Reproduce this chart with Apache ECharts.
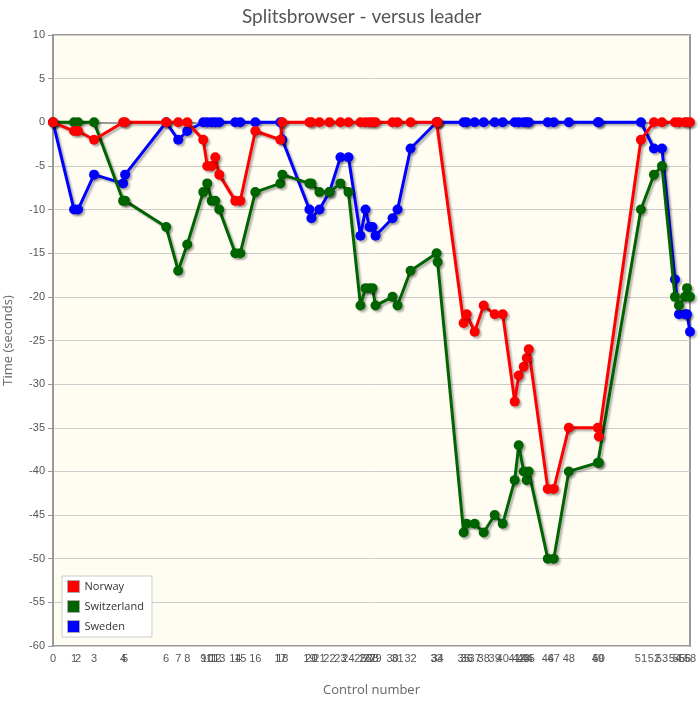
<!DOCTYPE html>
<html>
<head>
<meta charset="utf-8">
<script src="https://cdn.jsdelivr.net/npm/echarts@6/dist/echarts.min.js"></script>
<style>
html,body{margin:0;padding:0;background:#fff;}
#chart{width:700px;height:709px;}
</style>
</head>
<body>
<div id="chart"></div>
<script>
// Leader's cumulative time (seconds) at each control 0..58
var controlTimes = [0,105,125,205,350,360,565,625,670,750,770,792,810,830,910,935,1010,1135,1145,1280,1290,1330,1380,1435,1475,1535,1560,1580,1595,1610,1695,1720,1785,1915,1920,2050,2065,2105,2150,2205,2245,2305,2325,2350,2365,2375,2470,2500,2575,2720,2725,2935,3000,3040,3105,3125,3155,3165,3180];
var controlLabels = controlTimes.map(function(t, i){ return String(i); });

var seriesNames = ['Norway', 'Switzerland', 'Sweden'];
var norway = [0,-1,-1,-2,0,0,0,0,0,-2,-5,-5,-4,-6,-9,-9,-1,-2,0,0,0,0,0,0,0,0,0,0,0,0,0,0,0,0,0,-23,-22,-24,-21,-22,-22,-32,-29,-28,-27,-26,-42,-42,-35,-35,-36,-2,0,0,0,0,0,0,0];
var switzerland = [0,0,0,0,-9,-9,-12,-17,-14,-8,-7,-9,-9,-10,-15,-15,-8,-7,-6,-7,-7,-8,-8,-7,-8,-21,-19,-19,-19,-21,-20,-21,-17,-15,-16,-47,-46,-46,-47,-45,-46,-41,-37,-40,-41,-40,-50,-50,-40,-39,-39,-10,-6,-5,-20,-21,-20,-19,-20];
var sweden = [0,-10,-10,-6,-7,-6,0,-2,-1,0,0,0,0,0,0,0,0,0,-2,-10,-11,-10,-8,-4,-4,-13,-10,-12,-12,-13,-11,-10,-3,0,0,0,0,0,0,0,0,0,0,0,0,0,0,0,0,0,0,0,-3,-3,-18,-22,-22,-22,-24];
var seriesColors = ['#ff0000', '#006400', '#0000ff'];

var yMin = -60, yMax = 10, yStep = 5;

function pairs(vals){
  return vals.map(function(v, i){ return [controlTimes[i], v]; });
}

var allValues = [norway, switzerland, sweden];
var chart = echarts.init(document.getElementById('chart'));
var labelMap = {};
controlTimes.forEach(function(t, i){ labelMap[t] = controlLabels[i]; });

var option = {
  animation: false,
  backgroundColor: '#ffffff',
  title: {
    text: 'Splitsbrowser - versus leader',
    left: 237,
    top: 2,
    textStyle: { fontFamily: 'Lato', fontSize: 19, fontWeight: 'normal', color: '#555555' }
  },
  grid: {
    left: 53, right: 10, top: 35, bottom: 63,
    outerBoundsMode: 'none',
    containLabel: false,
    show: true,
    backgroundColor: '#fffcf2',
    borderColor: '#999999',
    borderWidth: 2
  },
  legend: {
    orient: 'vertical',
    left: 62,
    top: 576,
    backgroundColor: '#ffffff',
    borderColor: '#cccccc',
    borderWidth: 1,
    padding: [4, 8, 4, 5],
    itemGap: 7,
    itemWidth: 12,
    itemHeight: 12,
    icon: 'rect',
    textStyle: { fontFamily: 'Open Sans', fontSize: 11, color: '#333333' },
    data: seriesNames.map(function(n, i){ return { name: n, itemStyle: { color: seriesColors[i], borderColor: '#aaaaaa', borderWidth: 1 } }; })
  },
  xAxis: {
    type: 'value',
    min: controlTimes[0],
    max: controlTimes[controlTimes.length - 1],
    name: 'Control number',
    nameLocation: 'middle',
    nameGap: 38,
    nameTextStyle: { fontFamily: 'Open Sans', fontSize: 13, color: '#666666' },
    axisLine: { show: true, lineStyle: { color: '#999999', width: 2 } },
    axisTick: { show: true, customValues: controlTimes, length: 5, lineStyle: { color: '#999999' } },
    axisLabel: {
      customValues: controlTimes,
      showMinLabel: true,
      showMaxLabel: true,
      hideOverlap: false,
      fontFamily: 'Liberation Sans', fontSize: 11, color: '#555555', margin: 7,
      formatter: function(v){ return labelMap[v] !== undefined ? labelMap[v] : ''; }
    },
    splitLine: { show: false }
  },
  yAxis: {
    type: 'value',
    min: yMin, max: yMax, interval: yStep,
    name: 'Time (seconds)',
    nameLocation: 'middle',
    nameGap: 38,
    nameTextStyle: { fontFamily: 'Open Sans', fontSize: 13, color: '#666666' },
    axisLine: { show: true, lineStyle: { color: '#999999', width: 2 } },
    axisTick: { show: true, length: 5, lineStyle: { color: '#999999' } },
    axisLabel: { fontFamily: 'Liberation Sans', fontSize: 11, color: '#555555', margin: 8 },
    splitLine: { show: true, lineStyle: { color: '#cccccc', width: 1 } }
  },
  series: seriesNames.map(function(n, i){
    return {
      name: n,
      type: 'line',
      data: pairs(allValues[i]),
      symbol: 'circle',
      symbolSize: 10,
      showAllSymbol: true,
      z: 10 - i,
      lineStyle: { color: seriesColors[i], width: 3, shadowColor: 'rgba(0,0,0,0.3)', shadowBlur: 2, shadowOffsetX: 2, shadowOffsetY: 2 },
      itemStyle: { color: seriesColors[i], shadowColor: 'rgba(0,0,0,0.3)', shadowBlur: 2, shadowOffsetX: 2, shadowOffsetY: 2 },
      emphasis: { disabled: true }
    };
  })
};
chart.setOption(option);
</script>
</body>
</html>
